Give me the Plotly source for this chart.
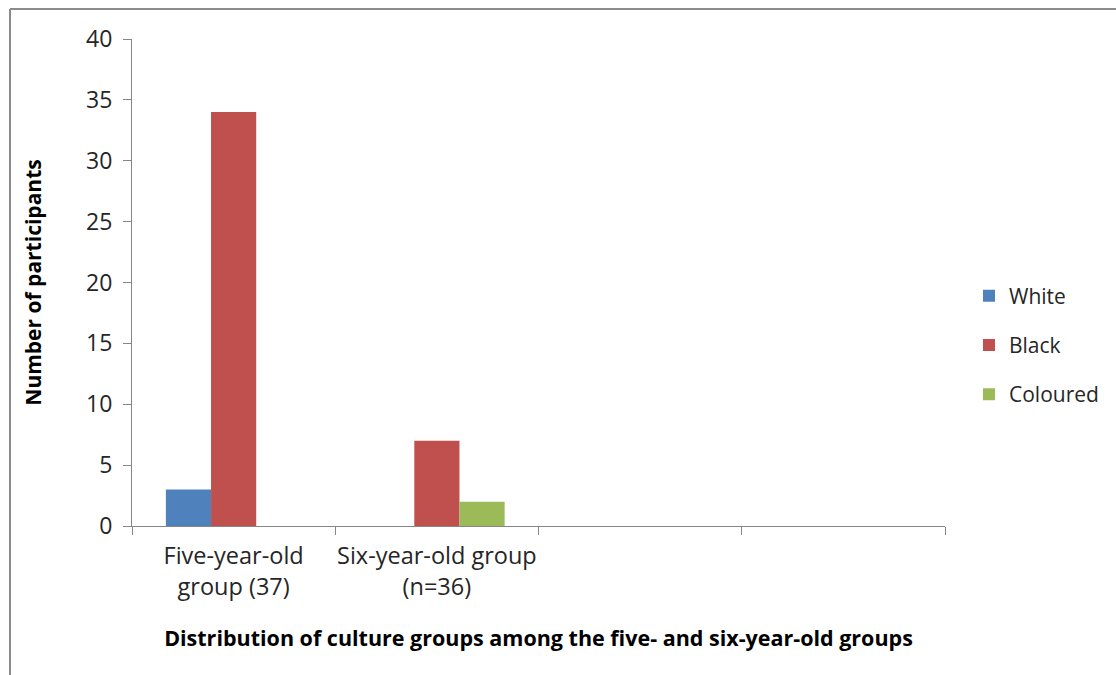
import plotly.graph_objects as go

categories = ["Five-year-old<br>group (37)", "Six-year-old group<br>(n=36)", " ", "  "]
series_names = ["White", "Black", "Coloured"]
white = [3, 0, None, None]
black = [34, 7, None, None]
coloured = [0, 2, None, None]
colors = ["#4F81BD", "#C0504D", "#9BBB59"]
y_ticks = [0, 5, 10, 15, 20, 25, 30, 35, 40]

FONT = "Open Sans"

fig = go.Figure()
for name, vals, c in zip(series_names, [white, black, coloured], colors):
    fig.add_trace(go.Bar(x=categories, y=vals, name=name, legendgroup=name,
                         marker=dict(color=c, line=dict(width=0))))

L, R, T, B = 132, 171, 39, 149
W, H = 1116, 675
pw = W - L - R
ph = H - T - B

fig.update_layout(
    width=W, height=H,
    margin=dict(l=L, r=R, t=T, b=B, autoexpand=False),
    paper_bgcolor="white", plot_bgcolor="white",
    barmode="group", bargap=1.5 / 4.5, bargroupgap=0,
    font=dict(family=FONT, color="#262626", size=21),
    xaxis=dict(
        type="category", categoryorder="array", categoryarray=categories,
        showline=True, linecolor="#868686", linewidth=1,
        ticks="outside", ticklen=8, tickcolor="#868686", tickson="boundaries",
        showgrid=False, zeroline=False, automargin=False, tickangle=0,
        tickfont=dict(family=FONT, size=23.5, color="#262626"),
        ticklabelstandoff=9,
        title=dict(text="<b>Distribution of culture groups among the five- and six-year-old groups</b>",
                   font=dict(family=FONT, size=21.5, color="#000000"), standoff=30),
    ),
    yaxis=dict(
        range=[0, 40], tickvals=y_ticks,
        showline=True, linecolor="#868686", linewidth=1,
        ticks="outside", ticklen=8, tickcolor="#868686",
        showgrid=False, zeroline=False, automargin=False,
        tickfont=dict(family=FONT, size=23, color="#262626"),
        ticklabelstandoff=6,
        title=dict(text="<b>Number of participants</b>",
                   font=dict(family=FONT, size=21, color="#000000"), standoff=38),
    ),
    legend=dict(
        x=(969 - L) / pw, y=(526 - 345) / ph, xanchor="left", yanchor="middle",
        font=dict(family=FONT, size=21, color="#262626"),
        traceorder="grouped", tracegroupgap=19, itemwidth=30, bgcolor="rgba(0,0,0,0)",
    ),
    showlegend=True,
)

# outer chart frame (grey border, partially out of view like the source)
x0 = (10 - L) / pw
y1 = 1 + (T - 9) / ph
fig.add_shape(type="line", xref="paper", yref="paper", x0=x0, x1=x0, y0=-1, y1=y1,
              line=dict(color="#8C8C8C", width=2))
fig.add_shape(type="line", xref="paper", yref="paper", x0=x0, x1=1.5, y0=y1, y1=y1,
              line=dict(color="#8C8C8C", width=2))

fig.write_html("out.html")
